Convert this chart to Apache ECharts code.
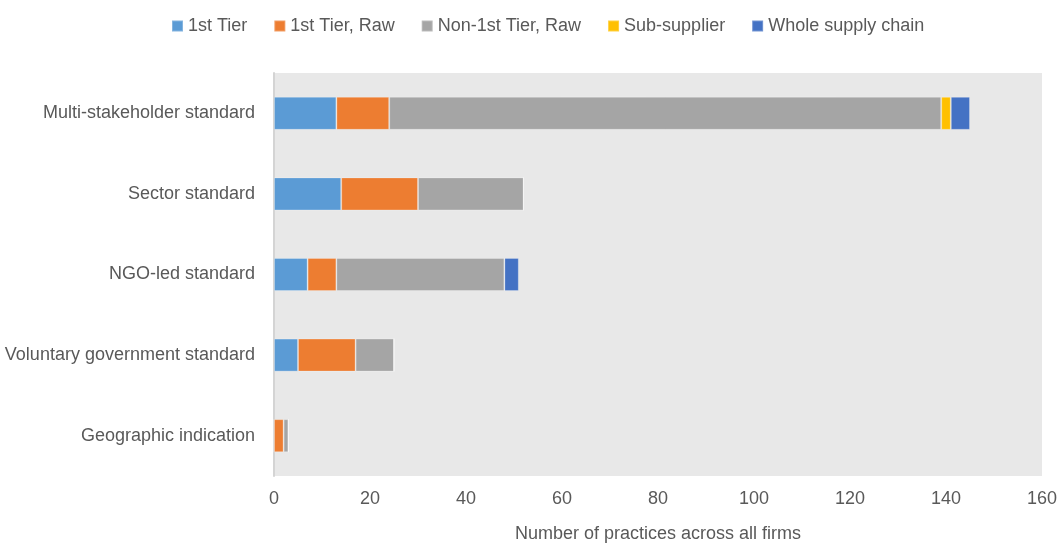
<!DOCTYPE html>
<html>
<head>
<meta charset="utf-8">
<script src="https://cdn.jsdelivr.net/npm/echarts@6/dist/echarts.min.js"></script>
<style>
  html, body { margin: 0; padding: 0; background: #ffffff; }
  #chart { width: 1059px; height: 543px; }
</style>
</head>
<body>
<div id="chart"></div>
<script>
// Standard types, listed top to bottom
const categories = [
  'Multi-stakeholder standard',
  'Sector standard',
  'NGO-led standard',
  'Voluntary government standard',
  'Geographic indication'
];

// Number of practices per supply-chain scope
const firstTier        = [13, 14, 7, 5, 0];
const firstTierRaw     = [11, 16, 6, 12, 2];
const nonFirstTierRaw  = [115, 22, 35, 8, 1];
const subSupplier      = [2, 0, 0, 0, 0];
const wholeSupplyChain = [4, 0, 3, 0, 0];

const xTicks = [0, 20, 40, 60, 80, 100, 120, 140, 160];

const seriesDefs = [
  { name: '1st Tier', data: firstTier, color: '#5b9bd5' },
  { name: '1st Tier, Raw', data: firstTierRaw, color: '#ed7d31' },
  { name: 'Non-1st Tier, Raw', data: nonFirstTierRaw, color: '#a5a5a5' },
  { name: 'Sub-supplier', data: subSupplier, color: '#ffc000' },
  { name: 'Whole supply chain', data: wholeSupplyChain, color: '#4472c4' }
];

const font = '"Liberation Sans Narrow", "Arial Narrow", "Liberation Sans", sans-serif';

const chart = echarts.init(document.getElementById('chart'), null, { renderer: 'canvas' });

chart.setOption({
  animation: false,
  textStyle: { fontFamily: font },
  legend: {
    top: 12,
    left: 166,
    itemWidth: 11,
    itemHeight: 11,
    itemGap: 26,
    icon: 'rect',
    textStyle: { fontFamily: font, fontSize: 18, color: '#595959' },
    data: seriesDefs.map(s => s.name)
  },
  grid: {
    left: 274,
    right: 17,
    top: 73,
    bottom: 67,
    outerBoundsMode: 'none',
    containLabel: false,
    show: true,
    backgroundColor: '#e8e8e8',
    borderWidth: 0
  },
  xAxis: {
    type: 'value',
    min: xTicks[0],
    max: xTicks[xTicks.length - 1],
    interval: 20,
    name: 'Number of practices across all firms',
    nameLocation: 'middle',
    nameGap: 49,
    nameTextStyle: { fontFamily: font, fontSize: 18, color: '#595959' },
    axisLine: { show: false },
    axisTick: { show: false },
    splitLine: { show: false },
    axisLabel: { fontFamily: font, fontSize: 18, color: '#595959', margin: 14 }
  },
  yAxis: {
    type: 'category',
    data: categories,
    inverse: true,
    axisLine: { show: true, lineStyle: { color: '#d4d4d4', width: 2 } },
    axisTick: { show: false },
    axisLabel: { fontFamily: font, fontSize: 18, color: '#595959', margin: 19 }
  },
  series: seriesDefs.map(s => ({
    name: s.name,
    type: 'bar',
    stack: 'total',
    barWidth: '41%',
    data: s.data,
    itemStyle: { color: s.color, borderColor: 'rgba(255,255,255,0.25)', borderWidth: 1 },
    emphasis: { disabled: true }
  }))
});
</script>
</body>
</html>
